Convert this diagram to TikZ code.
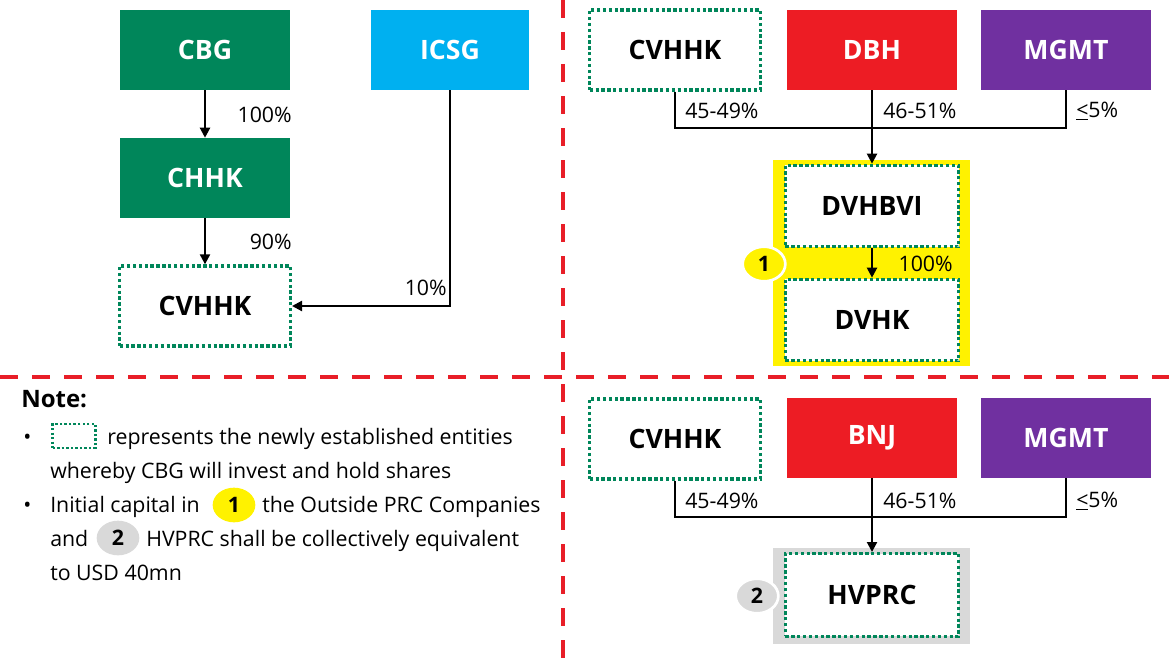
\documentclass[tikz,border=0pt]{standalone}
\usepackage{fontspec}
\setmainfont{Open Sans}
\usetikzlibrary{arrows.meta,shapes.geometric}

\definecolor{boxgreen}{RGB}{0,134,90}
\definecolor{boxcyan}{RGB}{0,176,240}
\definecolor{boxred}{RGB}{237,28,36}
\definecolor{boxpurple}{RGB}{112,48,160}
\definecolor{markyellow}{RGB}{255,242,0}
\definecolor{markgrey}{RGB}{217,217,217}
\definecolor{divred}{RGB}{232,30,40}

\tikzset{
  entity/.style={minimum width=128pt, minimum height=60pt, inner sep=0pt,
    font=\fontsize{20}{23}\selectfont\bfseries},
  filled/.style={entity, fill=#1, text=white},
  newbox/.style={entity, draw=boxgreen, line width=2.5pt,
    dash pattern=on 2.5pt off 1.9pt, fill=white},
  pct/.style={inner sep=0pt, font=\fontsize{16}{18}\selectfont},
  own/.style={line width=1.6pt},
  arr/.style={own, -{Triangle[length=7.5pt,width=7.5pt]}},
  marker/.style={ellipse, minimum width=32pt, minimum height=26pt, inner sep=0pt,
    fill=#1, draw=white, line width=2pt, font=\fontsize{16}{18}\selectfont\bfseries},
  notetext/.style={anchor=base west, inner sep=0pt, font=\fontsize{16}{19}\selectfont},
  divider/.style={divred, line width=3pt, dash pattern=on 13.5pt off 10.5pt}
}

\begin{document}
\begin{tikzpicture}[x=0.75pt,y=-0.75pt]
  \useasboundingbox (0,0) rectangle (1169,660);

  \fill[markyellow] (773,160) rectangle (970,366);
  \fill[markgrey] (773,548) rectangle (970,644);

  \draw[divider] (563,0) -- (563,660);
  \draw[divider] (0,377) -- (1169,377);

  % top left
  \node[filled=boxgreen] (cbg) at (205,50) {CBG};
  \node[filled=boxcyan, minimum width=118pt] (icsg) at (450,50) {ICSG};
  \node[filled=boxgreen] (chhk) at (205,178) {CHHK};
  \node[newbox] (cvhhk) at (205,306) {CVHHK};

  % top right
  \node[newbox] (cvhhkA) at (675,50) {CVHHK};
  \node[filled=boxred] (dbh) at (872,50) {DBH};
  \node[filled=boxpurple] (mgmtA) at (1066,50) {MGMT};
  \node[newbox, minimum width=130pt, minimum height=61pt] (dvhbvi) at (872,206) {DVHBVI};
  \node[newbox, minimum width=130pt, minimum height=61pt] (dvhk) at (872,320) {DVHK};
  \node[marker=markyellow] (mone) at (764,264) {1};

  % bottom right
  \node[newbox] (cvhhkB) at (675,439) {CVHHK};
  \node[filled=boxred] (bnj) at (872,438) {BNJ};
  \node[filled=boxpurple] (mgmtB) at (1066,438) {MGMT};
  \node[newbox, minimum width=130pt, minimum height=62pt] (hvprc) at (872,595) {HVPRC};
  \node[marker=markgrey] (mtwo) at (757,596) {2};

  \coordinate (jA) at (872,128);
  \coordinate (jB) at (872,517);

  \draw[arr] (cbg) -- (chhk);
  \draw[arr] (chhk) -- (cvhhk);
  \draw[arr] (icsg.south) |- (cvhhk.east);
  \draw[own] (cvhhkA.south) |- (jA) -| (mgmtA.south);
  \draw[arr] (dbh.south) -- (dvhbvi.north);
  \draw[arr] (dvhbvi) -- (dvhk);
  \draw[own] (cvhhkB.south) |- (jB) -| (mgmtB.south);
  \draw[arr] (bnj.south) -- (hvprc.north);

  \begin{scope}[every node/.style={pct}]
    \node[anchor=east] (pcbg) at (292,115) {100\%};
    \node[anchor=east] (pchhk) at (292,242) {90\%};
    \node[anchor=east] (picsg) at (447,288) {10\%};
    \node[anchor=west] (pcvA) at (685,111) {45-49\%};
    \node[anchor=west] (pdbh) at (883,111) {46-51\%};
    \node[anchor=west] (pmgA) at (1076,111) {\underline{<}5\%};
    \node[anchor=east] (pdv) at (953,264) {100\%};
    \node[anchor=west] (pcvB) at (685,501) {45-49\%};
    \node[anchor=west] (pbnj) at (883,501) {46-51\%};
    \node[anchor=west] (pmgB) at (1076,501) {\underline{<}5\%};
  \end{scope}

  % note
  \node[notetext, font=\fontsize{18}{20}\selectfont\bfseries] (note) at (21,407) {Note:};
  \node[notetext] (bulA) at (23,444) {\textbullet};
  \node[newbox, minimum width=32pt, minimum height=18pt, line width=1.8pt,
    dash pattern=on 1.8pt off 1.6pt] (legend) at (74,436) {};
  \node[notetext] (nA) at (107,444) {represents the newly established entities};
  \node[notetext] (nB) at (50,478) {whereby CBG will invest and hold shares};
  \node[notetext] (bulB) at (23,512) {\textbullet};
  \node[notetext] (nC) at (50,512) {Initial capital in};
  \node[marker=markyellow, draw=none] (monen) at (234,505) {1};
  \node[notetext] (nD) at (262,512) {the Outside PRC Companies};
  \node[notetext] (nE) at (50,546) {and};
  \node[marker=markgrey, draw=none] (mtwon) at (118,538) {2};
  \node[notetext] (nF) at (146,546) {HVPRC shall be collectively equivalent};
  \node[notetext] (nG) at (50,580) {to USD 40mn};
\end{tikzpicture}
\end{document}
